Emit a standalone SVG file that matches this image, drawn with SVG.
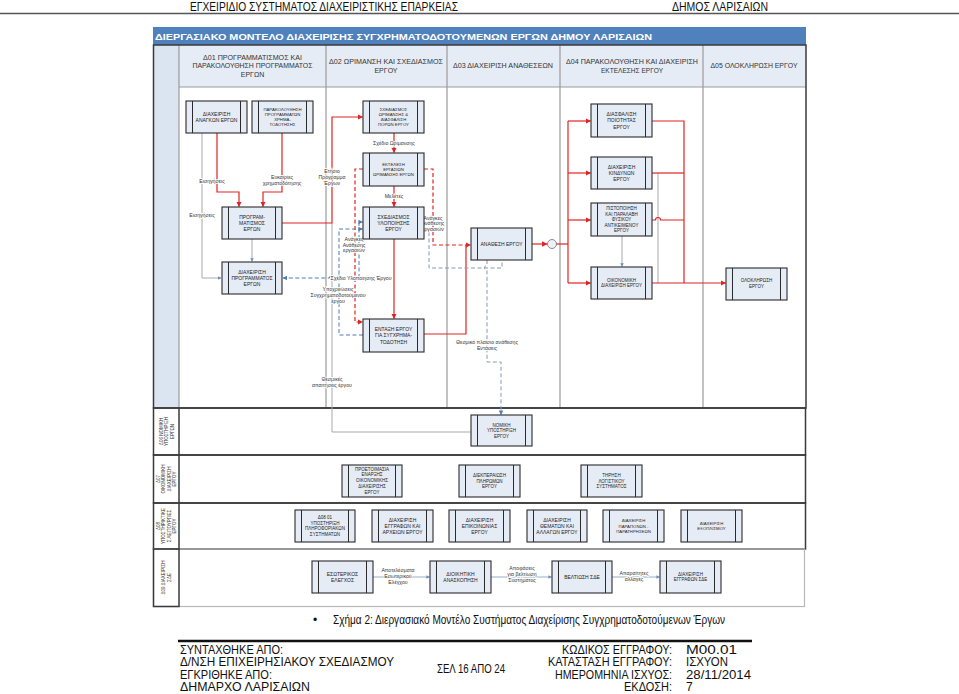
<svg xmlns="http://www.w3.org/2000/svg" width="959" height="694" viewBox="0 0 959 694">
<style>
.bx{fill:#e6ecf6;stroke:#2b2b2b;stroke-width:1.1}
.sd{stroke:#2b2b2b;stroke-width:1;fill:none}
.nt{font-family:"Liberation Sans",Arial,sans-serif;font-size:5px;fill:#222;text-anchor:middle}
.s43{font-size:4.3px}
.s45{font-size:4.5px}
.red{stroke:#e02424;stroke-width:1.2;fill:none}
.redd{stroke:#e02424;stroke-width:1.2;fill:none;stroke-dasharray:4 2.5}
.blu{stroke:#4f7bb5;stroke-width:1;fill:none;stroke-dasharray:4 2.5}
.gbl{stroke:#8598b5;stroke-width:1;fill:none;stroke-dasharray:4 2.5}
.gry{stroke:#a9a9a9;stroke-width:1;fill:none}
.gln{stroke:#8fa3c0;stroke-width:0.9;fill:none}
.lbl{font-family:"Liberation Sans",Arial,sans-serif;font-size:5.2px;fill:#333;text-anchor:middle;stroke:#fff;stroke-width:1.6;paint-order:stroke}
.hd{font-family:"Liberation Sans",Arial,sans-serif;font-size:7px;fill:#333;text-anchor:middle}
.ln{font-family:"Liberation Sans",Arial,sans-serif;font-size:4.5px;fill:#333;text-anchor:middle}
.ft{font-family:"Liberation Sans Narrow","Liberation Sans",Arial,sans-serif;font-size:12px;fill:#111}
.div{stroke:#9a9a9a;stroke-width:1.2}
.lane{fill:none;stroke:#3a3a3a;stroke-width:1.5}
</style>
<defs>
<marker id="ar" viewBox="0 0 10 10" refX="9" refY="5" markerWidth="5.5" markerHeight="5.5" orient="auto" markerUnits="userSpaceOnUse"><path d="M0,0 L10,5 L0,10 z" fill="#e02424"/></marker>
<marker id="ab" viewBox="0 0 10 10" refX="9" refY="5" markerWidth="4.5" markerHeight="4.5" orient="auto" markerUnits="userSpaceOnUse"><path d="M0,0 L10,5 L0,10 z" fill="#4f7bb5"/></marker>
<marker id="ag" viewBox="0 0 10 10" refX="9" refY="5" markerWidth="3.5" markerHeight="3.5" orient="auto" markerUnits="userSpaceOnUse"><path d="M0,0 L10,5 L0,10 z" fill="#6f8fbf"/></marker>
</defs>

<!-- page header -->
<text class="ft" x="190" y="10.5" font-size="10" textLength="268" lengthAdjust="spacingAndGlyphs">ΕΓΧΕΙΡΙΔΙΟ ΣΥΣΤΗΜΑΤΟΣ ΔΙΑΧΕΙΡΙΣΤΙΚΗΣ ΕΠΑΡΚΕΙΑΣ</text>
<text class="ft" x="672" y="10.5" font-size="10" textLength="96" lengthAdjust="spacingAndGlyphs">ΔΗΜΟΣ ΛΑΡΙΣΑΙΩΝ</text>
<line x1="0" y1="13.5" x2="959" y2="13.5" stroke="#555" stroke-width="1.5"/>

<!-- frame -->
<g id="frame">
<rect x="153" y="27" width="653" height="18" fill="#4f81bd"/>
<text x="155" y="39.5" font-family="Liberation Sans,Arial,sans-serif" font-size="9.5" font-weight="bold" fill="#fff" textLength="497" lengthAdjust="spacingAndGlyphs">ΔΙΕΡΓΑΣΙΑΚΟ ΜΟΝΤΕΛΟ ΔΙΑΧΕΙΡΙΣΗΣ ΣΥΓΧΡΗΜΑΤΟΔΟΤΟΥΜΕΝΩΝ ΕΡΓΩΝ ΔΗΜΟΥ ΛΑΡΙΣΑΙΩΝ</text>
<rect x="153" y="45" width="653" height="42" fill="#e6ecf5"/>
<rect x="153" y="45" width="26" height="363" fill="#dbe5f1"/>
<line x1="179" y1="87" x2="806" y2="87" stroke="#9a9a9a" stroke-width="1.2"/>
<line class="div" x1="179" y1="45" x2="179" y2="408"/>
<line class="div" x1="326" y1="45" x2="326" y2="408"/>
<line class="div" x1="447" y1="45" x2="447" y2="408"/>
<line class="div" x1="560" y1="45" x2="560" y2="408"/>
<line class="div" x1="703" y1="45" x2="703" y2="408"/>
<rect class="lane" x="153.5" y="45" width="652.5" height="363"/>
<rect class="lane" x="153.5" y="408" width="652" height="47"/>
<rect class="lane" x="153.5" y="455" width="652" height="48"/>
<rect class="lane" x="153.5" y="503" width="652" height="46"/>
<rect x="153.5" y="549" width="651" height="57.5" fill="none" stroke="#b8b8b8" stroke-width="1.2"/>
<rect class="lane" x="153.5" y="549" width="25.5" height="57.5"/>
<line class="lane" x1="179" y1="408" x2="179" y2="549"/>

<text class="hd" x="252.5" y="59.8" textLength="99" lengthAdjust="spacingAndGlyphs">Δ01 ΠΡΟΓΡΑΜΜΑΤΙΣΜΟΣ ΚΑΙ</text>
<text class="hd" x="252.5" y="68.2" textLength="120" lengthAdjust="spacingAndGlyphs">ΠΑΡΑΚΟΛΟΥΘΗΣΗ ΠΡΟΓΡΑΜΜΑΤΟΣ</text>
<text class="hd" x="252.5" y="76.5">ΕΡΓΩΝ</text>
<text class="hd" x="386" y="64" textLength="114" lengthAdjust="spacingAndGlyphs">Δ02 ΩΡΙΜΑΝΣΗ ΚΑΙ ΣΧΕΔΙΑΣΜΟΣ</text>
<text class="hd" x="386" y="72.5">ΕΡΓΟΥ</text>
<text class="hd" x="503" y="68" textLength="100" lengthAdjust="spacingAndGlyphs">Δ03 ΔΙΑΧΕΙΡΙΣΗ ΑΝΑΘΕΣΕΩΝ</text>
<text class="hd" x="632" y="64" textLength="132" lengthAdjust="spacingAndGlyphs">Δ04 ΠΑΡΑΚΟΛΟΥΘΗΣΗ ΚΑΙ ΔΙΑΧΕΙΡΙΣΗ</text>
<text class="hd" x="632" y="72.5" textLength="62" lengthAdjust="spacingAndGlyphs">ΕΚΤΕΛΕΣΗΣ ΕΡΓΟΥ</text>
<text class="hd" x="754" y="68" textLength="87" lengthAdjust="spacingAndGlyphs">Δ05 ΟΛΟΚΛΗΡΩΣΗ ΕΡΓΟΥ</text>

<g transform="translate(166.5,431.5) rotate(-90)"><text class="ln" y="-4">Δ06 ΝΟΜΙΚΗ</text><text class="ln" y="1.6">ΥΠΟΣΤΗΡΙΞΗ</text><text class="ln" y="7.2">ΕΡΓΩΝ</text></g>
<g transform="translate(166.5,479) rotate(-90)"><text class="ln" y="-6.7">Δ07</text><text class="ln" y="-1.2">ΟΙΚΟΝΟΜΙΚΗ</text><text class="ln" y="4.3">ΔΙΑΧΕΙΡΙΣΗ</text><text class="ln" y="9.8">ΕΡΓΟΥ</text></g>
<g transform="translate(166.5,526) rotate(-90)"><text class="ln" y="-6.7">Δ08</text><text class="ln" y="-1.2">ΥΠΟΣΤΗΡΙΚΤΙΚΕ</text><text class="ln" y="4.3">Σ ΛΕΙΤΟΥΡΓΙΕΣ</text><text class="ln" y="9.8">ΕΡΓΟΥ</text></g>
<g transform="translate(166.5,577.5) rotate(-90)"><text class="ln" y="-1.2">Δ09 ΔΙΑΧΕΙΡΙΣΗ</text><text class="ln" y="4.3">ΣΔΕ</text></g>
</g>

<!-- connectors -->
<g id="connectors">
<path class="gry" d="M202,133 V278 H221" marker-end="url(#ag)"/>
<path class="gry" d="M252,239 V261.5" marker-end="url(#ag)"/>
<path class="gry" d="M332,223 V432 H471"/>
<path class="gry" d="M622,236 V266.5" marker-end="url(#ag)"/>
<path class="gry" d="M658,173 V283"/>
<path class="red" d="M217,133 V192 H239 V206.5" marker-end="url(#ar)"/>
<path class="red" d="M282,133 V192 H263 V206.5" marker-end="url(#ar)"/>
<path class="red" d="M282,223 H332 V117 H362.5" marker-end="url(#ar)"/>
<path class="red" d="M394,133 V152.5" marker-end="url(#ar)"/>
<path class="red" d="M394,186 V206.5" marker-end="url(#ar)"/>
<path class="red" d="M394,239 V318.5" marker-end="url(#ar)"/>
<path class="redd" d="M363,169 H355 V322 H362.5" marker-end="url(#ar)"/>
<path class="redd" d="M424,169 H433 V245 H470.5" marker-end="url(#ar)"/>
<path class="red" d="M424,334 H466 V245"/>
<path class="blu" d="M359,278 H341.5 a2.5,2.5 0 0 0 -5,0 H334.5 a2.5,2.5 0 0 0 -5,0 H283" marker-end="url(#ab)"/>
<path class="blu" d="M359,278 V222 H362.5" marker-end="url(#ab)"/>
<path class="blu" d="M363,335 H339 V229 H362.5" marker-end="url(#ab)"/>
<path class="gbl" d="M429,232 V268 H502 V260.5"/>
<path class="gbl" d="M487,260 V265.5 a2.5,2.5 0 0 0 0,5 V362 H501 V414.5" marker-end="url(#ab)"/>
<path class="red" d="M532,244 H547" marker-end="url(#ar)"/>
<circle cx="552" cy="244" r="4.5" fill="#eef1f6" stroke="#8a8a8a" stroke-width="1"/>
<path class="red" d="M556.5,244 H568"/>
<path class="red" d="M568,121 V283"/>
<path class="red" d="M568,121 H590.5" marker-end="url(#ar)"/>
<path class="red" d="M568,173 H590.5" marker-end="url(#ar)"/>
<path class="red" d="M568,220 H590.5" marker-end="url(#ar)"/>
<path class="red" d="M568,283 H590.5" marker-end="url(#ar)"/>
<path class="red" d="M652,121 H684 V283"/>
<path class="red" d="M652,173 H684"/>
<path class="red" d="M652,220 H655.5 a2.5,2.5 0 0 1 5,0 H684"/>
<path class="red" d="M652,283 H725.5" marker-end="url(#ar)"/>
<path class="gln" d="M373,577 H429.5" marker-end="url(#ag)"/>
<path class="gln" d="M491,577 H551.5" marker-end="url(#ag)"/>
<path class="gln" d="M612,577 H659.5" marker-end="url(#ag)"/>

<text class="lbl" x="212" y="183">Εισηγήσεις</text>
<text class="lbl" x="282" y="179">Ευκαιρίες</text>
<text class="lbl" x="282" y="185">χρηματοδότησης</text>
<text class="lbl" x="332" y="173">Ετήσιο</text>
<text class="lbl" x="332" y="179">Πρόγραμμα</text>
<text class="lbl" x="332" y="185">Έργων</text>
<text class="lbl" x="202" y="217">Εισηγήσεις</text>
<text class="lbl" x="394" y="145">Σχέδιο Ωρίμανσης</text>
<text class="lbl" x="394" y="198">Μελέτες</text>
<text class="lbl" x="354" y="241">Ανάγκες</text>
<text class="lbl" x="354" y="246.5">Ανάθεσης</text>
<text class="lbl" x="354" y="252">εργασιών</text>
<text class="lbl" x="433" y="219.5">Ανάγκες</text>
<text class="lbl" x="433" y="225">Ανάθεσης</text>
<text class="lbl" x="433" y="230.5">εργασιών</text>
<text class="lbl" x="361" y="280" font-size="5.8" text-anchor="start">Σχέδιο Υλοποίησης Έργου</text>
<text class="lbl" x="338" y="290.5">Υποχρεώσεις</text>
<text class="lbl" x="338" y="296.5">Συγχρηματοδοτούμενου</text>
<text class="lbl" x="338" y="302.5">έργου</text>
<text class="lbl" x="332" y="380.5">Θεσμικές</text>
<text class="lbl" x="332" y="386.5">απαιτήσεις έργου</text>
<text class="lbl" x="487" y="344">Θεσμικό πλαίσιο ανάθεσης</text>
<text class="lbl" x="487" y="350">Εντάσεις</text>
<text class="lbl" x="398" y="572">Αποτελέσματα</text>
<text class="lbl" x="398" y="578">Εσωτερικού</text>
<text class="lbl" x="398" y="584">Ελέγχου</text>
<text class="lbl" x="522" y="570">Αποφάσεις</text>
<text class="lbl" x="522" y="576">για βελτίωση</text>
<text class="lbl" x="522" y="582">Συστήματος</text>
<text class="lbl" x="634" y="575">Απαραίτητες</text>
<text class="lbl" x="634" y="581">αλλαγές</text>
</g>

<!-- nodes -->
<g id="n01"><rect class="bx" x="186" y="101" width="61" height="32"/><path class="sd" d="M192.5,101 V133 M240.5,101 V133"/><text class="nt" x="216.5" y="115.8">ΔΙΑΧΕΙΡΙΣΗ</text><text class="nt" x="216.5" y="121.8">ΑΝΑΓΚΩΝ ΕΡΓΩΝ</text></g>
<g id="n02"><rect class="bx" x="252" y="101" width="61" height="32"/><path class="sd" d="M258.5,101 V133 M306.5,101 V133"/><text class="nt s43" x="282.5" y="110.5">ΠΑΡΑΚΟΛΟΥΘΗΣΗ</text><text class="nt s43" x="282.5" y="115.8">ΠΡΟΓΡΑΜΜΑΤΩΝ</text><text class="nt s43" x="282.5" y="121.1">ΧΡΗΜΑ-</text><text class="nt s43" x="282.5" y="126.4">ΤΟΔΟΤΗΣΗΣ</text></g>
<g id="n03"><rect class="bx" x="363" y="101" width="61" height="32"/><path class="sd" d="M369.5,101 V133 M417.5,101 V133"/><text class="nt s43" x="393.5" y="110.5">ΣΧΕΔΙΑΣΜΟΣ</text><text class="nt s43" x="393.5" y="115.8">ΩΡΙΜΑΝΣΗΣ &amp;</text><text class="nt s43" x="393.5" y="121.1">ΔΙΑΣΦΑΛΙΣΗ</text><text class="nt s43" x="393.5" y="126.4">ΠΟΡΩΝ ΕΡΓΟΥ</text></g>
<g id="n04"><rect class="bx" x="363" y="153" width="61" height="33"/><path class="sd" d="M369.5,153 V186 M417.5,153 V186"/><text class="nt s43" x="393.5" y="165.7">ΕΚΤΕΛΕΣΗ</text><text class="nt s43" x="393.5" y="171">ΕΡΓΑΣΙΩΝ</text><text class="nt s43" x="393.5" y="176.3">ΩΡΙΜΑΝΣΗΣ ΕΡΓΩΝ</text></g>
<g id="n05"><rect class="bx" x="222" y="207" width="60" height="32"/><path class="sd" d="M228.5,207 V239 M275.5,207 V239"/><text class="nt" x="252" y="218.6">ΠΡΟΓΡΑΜ-</text><text class="nt" x="252" y="224.8">ΜΑΤΙΣΜΟΣ</text><text class="nt" x="252" y="231">ΕΡΓΩΝ</text></g>
<g id="n06"><rect class="bx" x="363" y="207" width="61" height="32"/><path class="sd" d="M369.5,207 V239 M417.5,207 V239"/><text class="nt" x="393.5" y="218.6">ΣΧΕΔΙΑΣΜΟΣ</text><text class="nt" x="393.5" y="224.8">ΥΛΟΠΟΙΗΣΗΣ</text><text class="nt" x="393.5" y="231">ΕΡΓΟΥ</text></g>
<g id="n07"><rect class="bx" x="222" y="262" width="60" height="32"/><path class="sd" d="M228.5,262 V294 M275.5,262 V294"/><text class="nt" x="252" y="273.6">ΔΙΑΧΕΙΡΙΣΗ</text><text class="nt" x="252" y="279.8">ΠΡΟΓΡΑΜΜΑΤΟΣ</text><text class="nt" x="252" y="286">ΕΡΓΩΝ</text></g>
<g id="n08"><rect class="bx" x="363" y="319" width="61" height="33"/><path class="sd" d="M369.5,319 V352 M417.5,319 V352"/><text class="nt" x="393.5" y="331.1">ΕΝΤΑΞΗ ΕΡΓΟΥ</text><text class="nt" x="393.5" y="337.3">ΓΙΑ ΣΥΓΧΡΗΜΑ-</text><text class="nt" x="393.5" y="343.5">ΤΟΔΟΤΗΣΗ</text></g>
<g id="n09"><rect class="bx" x="471" y="228" width="61" height="32"/><path class="sd" d="M477.5,228 V260 M525.5,228 V260"/><text class="nt" x="501.5" y="245.8">ΑΝΑΘΕΣΗ ΕΡΓΟΥ</text></g>
<g id="n10"><rect class="bx" x="591" y="104" width="61" height="33"/><path class="sd" d="M597.5,104 V137 M645.5,104 V137"/><text class="nt" x="621.5" y="116.1">ΔΙΑΣΦΑΛΙΣΗ</text><text class="nt" x="621.5" y="122.3">ΠΟΙΟΤΗΤΑΣ</text><text class="nt" x="621.5" y="128.5">ΕΡΓΟΥ</text></g>
<g id="n11"><rect class="bx" x="591" y="157" width="61" height="32"/><path class="sd" d="M597.5,157 V189 M645.5,157 V189"/><text class="nt" x="621.5" y="168.6">ΔΙΑΧΕΙΡΙΣΗ</text><text class="nt" x="621.5" y="174.8">ΚΙΝΔΥΝΩΝ</text><text class="nt" x="621.5" y="181">ΕΡΓΟΥ</text></g>
<g id="n12"><rect class="bx" x="591" y="203" width="61" height="33"/><path class="sd" d="M597.5,203 V236 M645.5,203 V236"/><text class="nt s45" x="621.5" y="209.9">ΠΙΣΤΟΠΟΙΗΣΗ</text><text class="nt s45" x="621.5" y="215.5">ΚΑΙ ΠΑΡΑΛΑΒΗ</text><text class="nt s45" x="621.5" y="221.1">ΦΥΣΙΚΟΥ</text><text class="nt s45" x="621.5" y="226.7">ΑΝΤΙΚΕΙΜΕΝΟΥ</text><text class="nt s45" x="621.5" y="232.3">ΕΡΓΟΥ</text></g>
<g id="n13"><rect class="bx" x="591" y="267" width="61" height="32"/><path class="sd" d="M597.5,267 V299 M645.5,267 V299"/><text class="nt s45" x="621.5" y="281.8">ΟΙΚΟΝΟΜΙΚΗ</text><text class="nt s45" x="621.5" y="287.4">ΔΙΑΧΕΙΡΙΣΗ ΕΡΓΟΥ</text></g>
<g id="n14"><rect class="bx" x="726" y="268" width="61" height="32"/><path class="sd" d="M732.5,268 V300 M780.5,268 V300"/><text class="nt s45" x="756.5" y="281.5">ΟΛΟΚΛΗΡΩΣΗ</text><text class="nt s45" x="756.5" y="287.5">ΕΡΓΟΥ</text></g>
<g id="n15"><rect class="bx" x="471" y="415" width="61" height="31"/><path class="sd" d="M477.5,415 V446 M525.5,415 V446"/><text class="nt s45" x="501.5" y="426.5">ΝΟΜΙΚΗ</text><text class="nt s45" x="501.5" y="432.1">ΥΠΟΣΤΗΡΙΞΗ</text><text class="nt s45" x="501.5" y="437.7">ΕΡΓΟΥ</text></g>
<g id="n16"><rect class="bx" x="342" y="465" width="60" height="32"/><path class="sd" d="M348.5,465 V497 M395.5,465 V497"/><text class="nt s45" x="372" y="470.6">ΠΡΟΕΤΟΙΜΑΣΙΑ</text><text class="nt s45" x="372" y="476.4">ΕΝΑΡΞΗΣ</text><text class="nt s45" x="372" y="482.2">ΟΙΚΟΝΟΜΙΚΗΣ</text><text class="nt s45" x="372" y="488">ΔΙΑΧΕΙΡΙΣΗΣ</text><text class="nt s45" x="372" y="493.8">ΕΡΓΟΥ</text></g>
<g id="n17"><rect class="bx" x="459" y="465" width="61" height="32"/><path class="sd" d="M465.5,465 V497 M513.5,465 V497"/><text class="nt s45" x="489.5" y="477">ΔΙΕΚΠΕΡΑΙΩΣΗ</text><text class="nt s45" x="489.5" y="482.6">ΠΛΗΡΩΜΩΝ</text><text class="nt s45" x="489.5" y="488.2">ΕΡΓΟΥ</text></g>
<g id="n18"><rect class="bx" x="581" y="465" width="61" height="32"/><path class="sd" d="M587.5,465 V497 M635.5,465 V497"/><text class="nt s45" x="611.5" y="477">ΤΗΡΗΣΗ</text><text class="nt s45" x="611.5" y="482.6">ΛΟΓΙΣΤΙΚΟΥ</text><text class="nt s45" x="611.5" y="488.2">ΣΥΣΤΗΜΑΤΟΣ</text></g>
<g id="n19"><rect class="bx" x="295" y="510" width="60" height="32"/><path class="sd" d="M301.5,510 V542 M348.5,510 V542"/><text class="nt s45" x="325" y="519.2">Δ08 01</text><text class="nt s45" x="325" y="524.8">ΥΠΟΣΤΗΡΙΞΗ</text><text class="nt s45" x="325" y="530.4">ΠΛΗΡΟΦΟΡΙΑΚΩΝ</text><text class="nt s45" x="325" y="536">ΣΥΣΤΗΜΑΤΩΝ</text></g>
<g id="n20"><rect class="bx" x="372" y="510" width="61" height="32"/><path class="sd" d="M378.5,510 V542 M426.5,510 V542"/><text class="nt" x="402.5" y="521.8">ΔΙΑΧΕΙΡΙΣΗ</text><text class="nt" x="402.5" y="527.8">ΕΓΓΡΑΦΩΝ ΚΑΙ</text><text class="nt" x="402.5" y="533.8">ΑΡΧΕΙΩΝ ΕΡΓΟΥ</text></g>
<g id="n21"><rect class="bx" x="449" y="510" width="61" height="32"/><path class="sd" d="M455.5,510 V542 M503.5,510 V542"/><text class="nt" x="479.5" y="521.8">ΔΙΑΧΕΙΡΙΣΗ</text><text class="nt" x="479.5" y="527.8">ΕΠΙΚΟΙΝΩΝΙΑΣ</text><text class="nt" x="479.5" y="533.8">ΕΡΓΟΥ</text></g>
<g id="n22"><rect class="bx" x="527" y="510" width="60" height="32"/><path class="sd" d="M533.5,510 V542 M580.5,510 V542"/><text class="nt" x="557" y="521.8">ΔΙΑΧΕΙΡΙΣΗ</text><text class="nt" x="557" y="527.8">ΘΕΜΑΤΩΝ ΚΑΙ</text><text class="nt" x="557" y="533.8">ΑΛΛΑΓΩΝ ΕΡΓΟΥ</text></g>
<g id="n23"><rect class="bx" x="603" y="510" width="61" height="32"/><path class="sd" d="M609.5,510 V542 M657.5,510 V542"/><text class="nt s43" x="633.5" y="522.3">ΔΙΑΧΕΙΡΙΣΗ</text><text class="nt s43" x="633.5" y="527.6">ΠΑΡΑΠΟΝΩΝ -</text><text class="nt s43" x="633.5" y="532.9">ΠΑΡΑΤΗΡΗΣΕΩΝ</text></g>
<g id="n24"><rect class="bx" x="681" y="510" width="61" height="32"/><path class="sd" d="M687.5,510 V542 M735.5,510 V542"/><text class="nt s43" x="711.5" y="525">ΔΙΑΧΕΙΡΙΣΗ</text><text class="nt s43" x="711.5" y="530.3">ΕΞΟΠΛΙΣΜΟΥ</text></g>
<g id="n25"><rect class="bx" x="312" y="561" width="61" height="32"/><path class="sd" d="M318.5,561 V593 M366.5,561 V593"/><text class="nt" x="342.5" y="575.8">ΕΣΩΤΕΡΙΚΟΣ</text><text class="nt" x="342.5" y="581.8">ΕΛΕΓΧΟΣ</text></g>
<g id="n26"><rect class="bx" x="430" y="561" width="61" height="32"/><path class="sd" d="M436.5,561 V593 M484.5,561 V593"/><text class="nt" x="460.5" y="575.8">ΔΙΟΙΚΗΤΙΚΗ</text><text class="nt" x="460.5" y="581.8">ΑΝΑΣΚΟΠΗΣΗ</text></g>
<g id="n27"><rect class="bx" x="552" y="561" width="60" height="32"/><path class="sd" d="M558.5,561 V593 M605.5,561 V593"/><text class="nt" x="582" y="578.8">ΒΕΛΤΙΩΣΗ ΣΔΕ</text></g>
<g id="n28"><rect class="bx" x="660" y="561" width="61" height="32"/><path class="sd" d="M666.5,561 V593 M714.5,561 V593"/><text class="nt s45" x="690.5" y="575.8">ΔΙΑΧΕΙΡΙΣΗ</text><text class="nt s45" x="690.5" y="581.4">ΕΓΓΡΑΦΩΝ ΣΔΕ</text></g>

<!-- caption and footer -->
<text class="ft" x="313" y="624" font-size="12">•</text>
<text class="ft" x="333" y="624" font-size="12" textLength="392" lengthAdjust="spacingAndGlyphs">Σχήμα 2: Διεργασιακό Μοντέλο Συστήματος Διαχείρισης Συγχρηματοδοτούμενων Έργων</text>
<line x1="178" y1="641" x2="752" y2="641" stroke="#111" stroke-width="2.5"/>
<text class="ft" x="180" y="653.5" textLength="103" lengthAdjust="spacingAndGlyphs">ΣΥΝΤΑΧΘΗΚΕ ΑΠΟ:</text>
<text class="ft" x="180" y="666" textLength="214" lengthAdjust="spacingAndGlyphs">Δ/ΝΣΗ ΕΠΙΧΕΙΡΗΣΙΑΚΟΥ ΣΧΕΔΙΑΣΜΟΥ</text>
<text class="ft" x="180" y="678.5" textLength="92" lengthAdjust="spacingAndGlyphs">ΕΓΚΡΙΘΗΚΕ ΑΠΟ:</text>
<text class="ft" x="180" y="691" textLength="130" lengthAdjust="spacingAndGlyphs">ΔΗΜΑΡΧΟ ΛΑΡΙΣΑΙΩΝ</text>
<text class="ft" x="437" y="672.5" font-size="11" textLength="68" lengthAdjust="spacingAndGlyphs">ΣΕΛ 16 ΑΠΟ 24</text>
<text class="ft" x="562" y="653.5" textLength="110" lengthAdjust="spacingAndGlyphs">ΚΩΔΙΚΟΣ ΕΓΓΡΑΦΟΥ:</text>
<text class="ft" x="548" y="666" textLength="124" lengthAdjust="spacingAndGlyphs">ΚΑΤΑΣΤΑΣΗ ΕΓΓΡΑΦΟΥ:</text>
<text class="ft" x="555" y="678.5" textLength="117" lengthAdjust="spacingAndGlyphs">ΗΜΕΡΟΜΗΝΙΑ ΙΣΧΥΟΣ:</text>
<text class="ft" x="624" y="691" textLength="48" lengthAdjust="spacingAndGlyphs">ΕΚΔΟΣΗ:</text>
<text class="ft" x="686" y="653.5" textLength="51" lengthAdjust="spacingAndGlyphs">Μ00.01</text>
<text class="ft" x="686" y="666" textLength="42" lengthAdjust="spacingAndGlyphs">ΙΣΧΥΟΝ</text>
<text class="ft" x="686" y="678.5" textLength="65" lengthAdjust="spacingAndGlyphs">28/11/2014</text>
<text class="ft" x="686" y="691">7</text>
</svg>
